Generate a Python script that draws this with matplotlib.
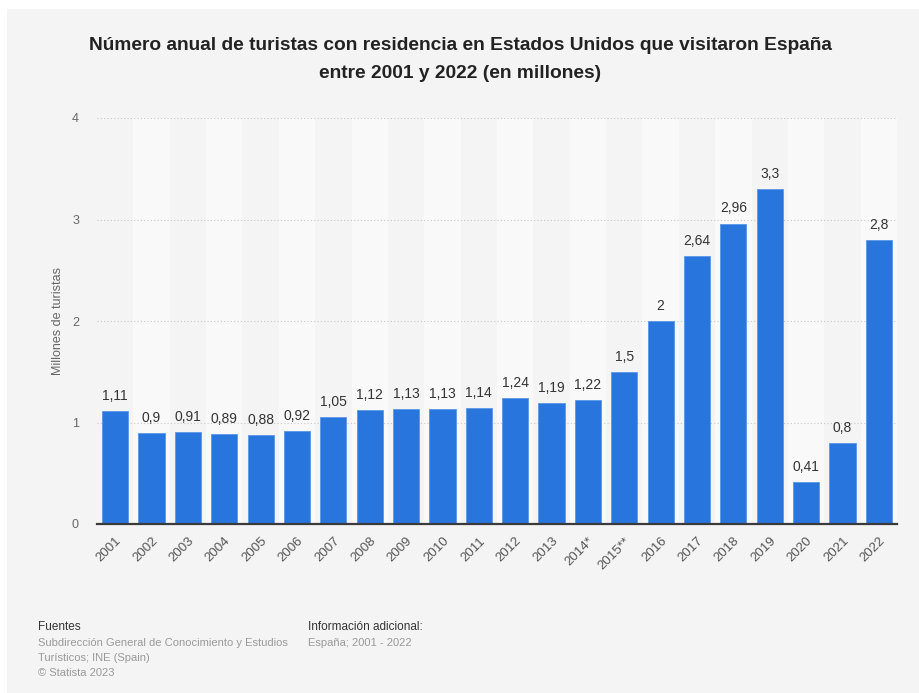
import matplotlib.pyplot as plt
from matplotlib.patches import Rectangle

years = ['2001', '2002', '2003', '2004', '2005', '2006', '2007', '2008', '2009', '2010', '2011',
         '2012', '2013', '2014*', '2015**', '2016', '2017', '2018', '2019', '2020', '2021', '2022']
tourists = [1.11, 0.9, 0.91, 0.89, 0.88, 0.92, 1.05, 1.12, 1.13, 1.13, 1.14,
            1.24, 1.19, 1.22, 1.5, 2, 2.64, 2.96, 3.3, 0.41, 0.8, 2.8]
y_ticks = [0, 1, 2, 3, 4]

bg = '#f4f4f4'
band = '#f9f9f9'
bar_color = '#2876dd'

plt.rcParams['font.family'] = ['Liberation Sans', 'DejaVu Sans']

fig = plt.figure(figsize=(9.2, 6.93), dpi=100)
fig.patch.set_facecolor(bg)
# thin white margin along the top and left edges
fig.patches.append(Rectangle((0, 1 - 9 / 693), 1, 9 / 693, transform=fig.transFigure,
                             facecolor='white', edgecolor='none', zorder=-10))
fig.patches.append(Rectangle((0, 0), 7 / 920, 1, transform=fig.transFigure,
                             facecolor='white', edgecolor='none', zorder=-10))

ax = fig.add_axes([97 / 920, 169 / 693, 800 / 920, 406 / 693])
ax.set_facecolor(bg)

# alternating column shading
for i in range(len(years)):
    if i % 2 == 1:
        ax.axvspan(i - 0.5, i + 0.5, color=band, zorder=0, lw=0)

ax.bar(range(len(years)), tourists, width=0.72, color=bar_color,
       edgecolor='#5b97e6', linewidth=0.6, zorder=3)

for i, v in enumerate(tourists):
    label = f'{v:g}'.replace('.', ',')
    ax.text(i, v + 0.08, label, ha='center', va='bottom', fontsize=10, color='#333333', zorder=4)

ax.set_xlim(-0.5, len(years) - 0.5)
ax.set_ylim(0, 4)
ax.set_yticks(y_ticks)
ax.set_yticklabels([str(t) for t in y_ticks], fontsize=9, color='#666666')
ax.set_xticks(range(len(years)))
ax.set_xticklabels(years, rotation=45, ha='right', rotation_mode='anchor', fontsize=9.5, color='#555555')
ax.tick_params(axis='both', length=0)
ax.tick_params(axis='y', pad=13)
ax.tick_params(axis='x', pad=8)

ax.yaxis.grid(True, linestyle=(0, (1, 2)), color='#c8c8c8', linewidth=0.8, zorder=1)
ax.set_axisbelow(True)
for side in ['top', 'right', 'left']:
    ax.spines[side].set_visible(False)
ax.spines['bottom'].set_color('#3a3a3a')
ax.spines['bottom'].set_linewidth(1.6)
ax.spines['bottom'].set_zorder(5)

ax.set_ylabel('Millones de turistas', fontsize=9, color='#666666', labelpad=6)

fig.text(0.5, 1 - 45 / 693, 'Número anual de turistas con residencia en Estados Unidos que visitaron España',
         ha='center', va='center', fontsize=13.8, fontweight='bold', color='#222222')
fig.text(0.5, 1 - 74 / 693, 'entre 2001 y 2022 (en millones)',
         ha='center', va='center', fontsize=13.8, fontweight='bold', color='#222222')

# footer
fig.text(38 / 920, 1 - 627 / 693, 'Fuentes', ha='left', va='center', fontsize=8.5, color='#333333')
fig.text(38 / 920, 1 - 643 / 693, 'Subdirección General de Conocimiento y Estudios', ha='left', va='center',
         fontsize=8, color='#999999')
fig.text(38 / 920, 1 - 658 / 693, 'Turísticos; INE (Spain)', ha='left', va='center', fontsize=8, color='#999999')
fig.text(38 / 920, 1 - 673 / 693, '© Statista 2023', ha='left', va='center', fontsize=8, color='#999999')
fig.text(308 / 920, 1 - 627 / 693, 'Información adicional:', ha='left', va='center', fontsize=8.5, color='#333333')
fig.text(308 / 920, 1 - 643 / 693, 'España; 2001 - 2022', ha='left', va='center', fontsize=8, color='#999999')

fig.savefig('out.png', dpi=100, facecolor=fig.get_facecolor())
